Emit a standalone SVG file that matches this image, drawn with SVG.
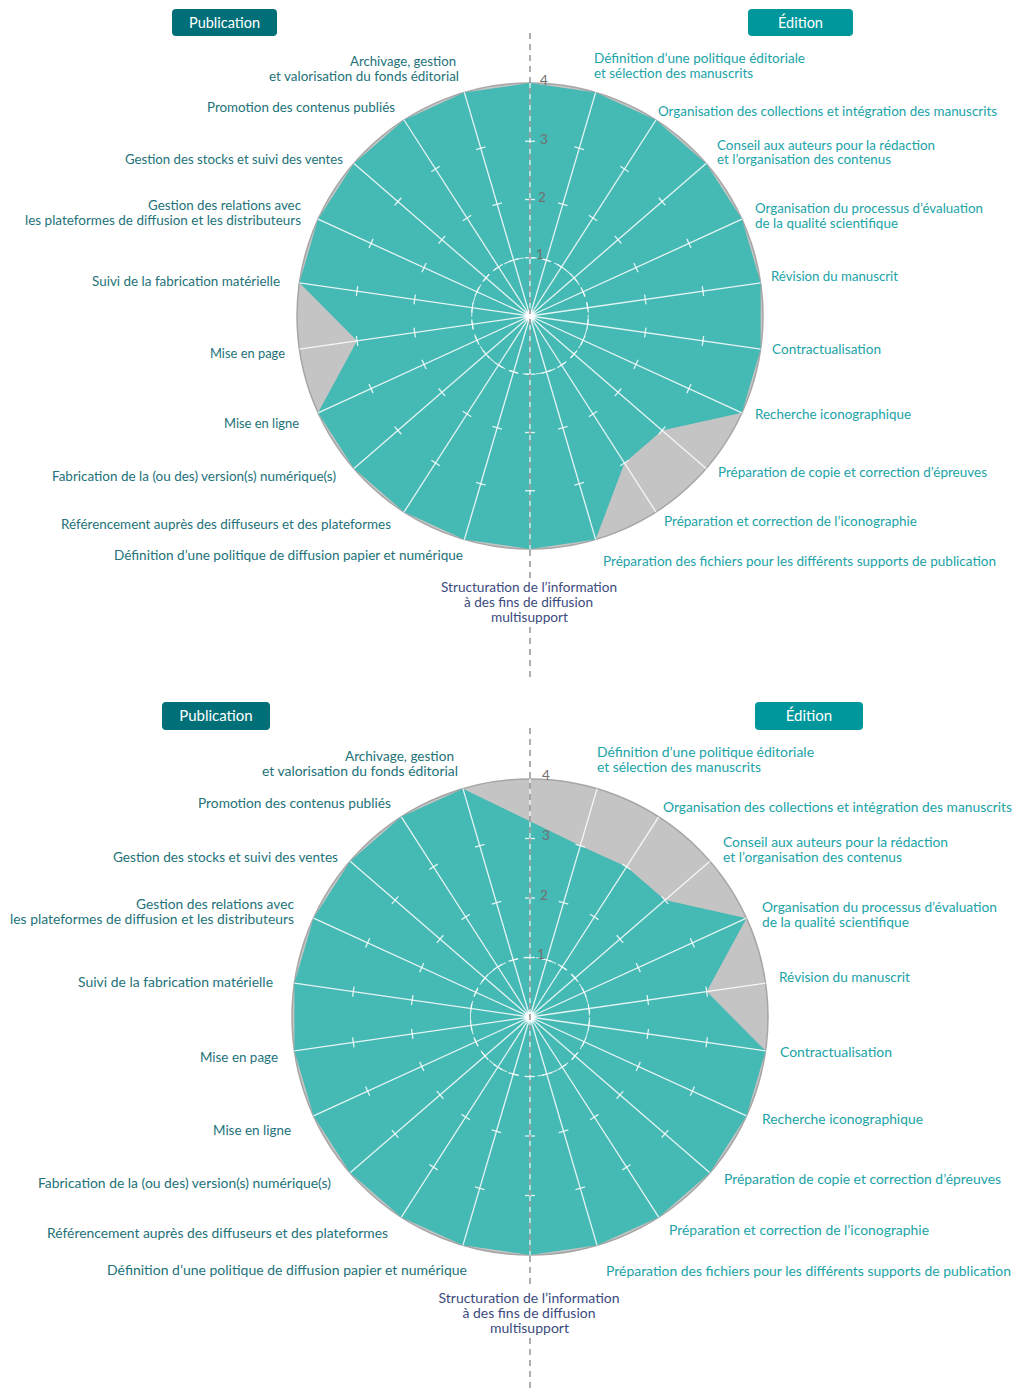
<svg xmlns="http://www.w3.org/2000/svg" xmlns:xlink="http://www.w3.org/1999/xlink" width="1014" height="1390" viewBox="0 0 1014 1390">
<style>
.bg{fill:#c4c4c4;stroke:#a6a6a6;stroke-width:1.5}
.val{fill:#45b9b4}
.sp line{stroke:#ffffff;stroke-width:1.3;stroke-opacity:0.85}
.ring{fill:none;stroke:#ffffff;stroke-width:1.1;stroke-opacity:0.75;stroke-dasharray:8 5}
.axis{stroke:#7a7a7a;stroke-width:1.2;stroke-dasharray:6 5;fill:none}
.num{font-family:Lato,"Liberation Sans",sans-serif;font-size:13.5px;fill:#707070}
text{font-family:Lato,"Open Sans","Liberation Sans",sans-serif;font-size:13px}
.l{fill:#237279;text-anchor:end}
.r{fill:#20a3a7}
.c{fill:#3b4a7e;text-anchor:middle}
.btn-p{fill:#006f78}
.btn-e{fill:#00979c}
.bt{fill:#ffffff;font-size:14.5px;text-anchor:middle}
.b2 text{font-size:13.4px}
.b2 .bt{font-size:15px}
</style>
<defs>
<radialGradient id="glow"><stop offset="0" stop-color="#ffffff" stop-opacity="1"/><stop offset="0.5" stop-color="#ffffff" stop-opacity="0.9"/><stop offset="1" stop-color="#ffffff" stop-opacity="0"/></radialGradient>
<g id="spA" class="sp"><line x1="0" y1="0" x2="0" y2="-233"/><line x1="-5" y1="-58.25" x2="5" y2="-58.25"/><line x1="-5" y1="-116.5" x2="5" y2="-116.5"/><line x1="-5" y1="-174.75" x2="5" y2="-174.75"/></g>
<g id="spB" class="sp"><line x1="0" y1="0" x2="0" y2="-238"/><line x1="-5" y1="-59.5" x2="5" y2="-59.5"/><line x1="-5" y1="-119" x2="5" y2="-119"/><line x1="-5" y1="-178.5" x2="5" y2="-178.5"/></g>
</defs>

<g id="chart-top">
<circle class="bg" cx="530" cy="316" r="233"/>
<polygon class="val" points="530,83 595.64,92.44 655.97,119.99 706.09,163.42 741.94,219.21 760.63,282.84 760.63,349.16 741.94,412.79 662.07,430.44 624.48,463.01 595.64,539.56 530,549 464.36,539.56 404.03,512.01 353.91,468.58 318.06,412.79 357.03,340.87 299.37,282.84 318.06,219.21 353.91,163.42 404.03,119.99 464.36,92.44"/>
<g id="spokes-top" transform="translate(530,316)">
<use href="#spA" transform="rotate(0)"/>
<use href="#spA" transform="rotate(16.3636)"/>
<use href="#spA" transform="rotate(32.7273)"/>
<use href="#spA" transform="rotate(49.0909)"/>
<use href="#spA" transform="rotate(65.4545)"/>
<use href="#spA" transform="rotate(81.8182)"/>
<use href="#spA" transform="rotate(98.1818)"/>
<use href="#spA" transform="rotate(114.5455)"/>
<use href="#spA" transform="rotate(130.9091)"/>
<use href="#spA" transform="rotate(147.2727)"/>
<use href="#spA" transform="rotate(163.6364)"/>
<use href="#spA" transform="rotate(180)"/>
<use href="#spA" transform="rotate(196.3636)"/>
<use href="#spA" transform="rotate(212.7273)"/>
<use href="#spA" transform="rotate(229.0909)"/>
<use href="#spA" transform="rotate(245.4545)"/>
<use href="#spA" transform="rotate(261.8182)"/>
<use href="#spA" transform="rotate(278.1818)"/>
<use href="#spA" transform="rotate(294.5455)"/>
<use href="#spA" transform="rotate(310.9091)"/>
<use href="#spA" transform="rotate(327.2727)"/>
<use href="#spA" transform="rotate(343.6364)"/>
<circle class="ring" cx="0" cy="0" r="58.25"/>
<circle cx="0" cy="0" r="7" fill="url(#glow)"/>
</g>
<path class="axis" d="M530,33 V578 M530,627 V678"/>
<text class="num" x="540" y="85">4</text>
<text class="num" x="540" y="143.5">3</text>
<text class="num" x="538" y="202">2</text>
<text class="num" x="536" y="258.5">1</text>
</g>

<g id="labels-top">
<g id="btn-pub-top"><rect class="btn-p" x="172" y="9" width="105" height="27" rx="4"/><text class="bt" x="224.5" y="27.5">Publication</text></g>
<g id="btn-edi-top"><rect class="btn-e" x="748" y="9" width="105" height="27" rx="4"/><text class="bt" x="800.5" y="27.5">Édition</text></g>
<text class="r" x="594" y="62.5" textLength="211" lengthAdjust="spacingAndGlyphs">Définition d’une politique éditoriale</text>
<text class="r" x="594" y="77.5" textLength="159" lengthAdjust="spacingAndGlyphs">et sélection des manuscrits</text>
<text class="r" x="658" y="115.5" textLength="339" lengthAdjust="spacingAndGlyphs">Organisation des collections et intégration des manuscrits</text>
<text class="r" x="717" y="149.5" textLength="218" lengthAdjust="spacingAndGlyphs">Conseil aux auteurs pour la rédaction</text>
<text class="r" x="717" y="163.5" textLength="174" lengthAdjust="spacingAndGlyphs">et l’organisation des contenus</text>
<text class="r" x="755" y="212.5" textLength="228" lengthAdjust="spacingAndGlyphs">Organisation du processus d’évaluation</text>
<text class="r" x="755" y="227.5" textLength="143" lengthAdjust="spacingAndGlyphs">de la qualité scientifique</text>
<text class="r" x="771" y="280.5" textLength="127" lengthAdjust="spacingAndGlyphs">Révision du manuscrit</text>
<text class="r" x="772" y="353.5" textLength="109" lengthAdjust="spacingAndGlyphs">Contractualisation</text>
<text class="r" x="755" y="418.5" textLength="156" lengthAdjust="spacingAndGlyphs">Recherche iconographique</text>
<text class="r" x="718" y="476.5" textLength="269" lengthAdjust="spacingAndGlyphs">Préparation de copie et correction d’épreuves</text>
<text class="r" x="664" y="525.5" textLength="253" lengthAdjust="spacingAndGlyphs">Préparation et correction de l’iconographie</text>
<text class="r" x="603" y="565.5" textLength="393" lengthAdjust="spacingAndGlyphs">Préparation des fichiers pour les différents supports de publication</text>
<text class="c" x="529" y="591.5" textLength="176" lengthAdjust="spacingAndGlyphs">Structuration de l’information</text>
<text class="c" x="528.5" y="607" textLength="129" lengthAdjust="spacingAndGlyphs">à des fins de diffusion</text>
<text class="c" x="529.5" y="621.5" textLength="77" lengthAdjust="spacingAndGlyphs">multisupport</text>
<text class="l" x="456" y="66" textLength="106" lengthAdjust="spacingAndGlyphs">Archivage, gestion</text>
<text class="l" x="459" y="80.5" textLength="190" lengthAdjust="spacingAndGlyphs">et valorisation du fonds éditorial</text>
<text class="l" x="395" y="111.5" textLength="188" lengthAdjust="spacingAndGlyphs">Promotion des contenus publiés</text>
<text class="l" x="343" y="163.5" textLength="218" lengthAdjust="spacingAndGlyphs">Gestion des stocks et suivi des ventes</text>
<text class="l" x="301" y="209.5" textLength="153" lengthAdjust="spacingAndGlyphs">Gestion des relations avec</text>
<text class="l" x="301" y="224.5" textLength="276" lengthAdjust="spacingAndGlyphs">les plateformes de diffusion et les distributeurs</text>
<text class="l" x="280" y="285.5" textLength="188" lengthAdjust="spacingAndGlyphs">Suivi de la fabrication matérielle</text>
<text class="l" x="285" y="357.5" textLength="75" lengthAdjust="spacingAndGlyphs">Mise en page</text>
<text class="l" x="299" y="427.5" textLength="75" lengthAdjust="spacingAndGlyphs">Mise en ligne</text>
<text class="l" x="336" y="480.5" textLength="284" lengthAdjust="spacingAndGlyphs">Fabrication de la (ou des) version(s) numérique(s)</text>
<text class="l" x="391" y="528.5" textLength="330" lengthAdjust="spacingAndGlyphs">Référencement auprès des diffuseurs et des plateformes</text>
<text class="l" x="463" y="559.5" textLength="349" lengthAdjust="spacingAndGlyphs">Définition d’une politique de diffusion papier et numérique</text>
</g>

<g id="chart-bottom">
<circle class="bg" cx="530" cy="1017" r="238"/>
<polygon class="val" points="580.29,845.73 626.50,866.84 664.90,900.11 746.49,918.13 706.68,991.60 765.58,1050.87 746.49,1115.87 709.87,1172.86 658.67,1217.22 597.05,1245.36 530,1255 462.95,1245.36 401.33,1217.22 350.13,1172.86 313.51,1115.87 294.42,1050.87 294.42,983.13 313.51,918.13 350.13,861.14 401.33,816.78 462.95,788.64"/>
<g id="spokes-bottom" transform="translate(530,1017)">
<use href="#spB" transform="rotate(0)"/>
<use href="#spB" transform="rotate(16.3636)"/>
<use href="#spB" transform="rotate(32.7273)"/>
<use href="#spB" transform="rotate(49.0909)"/>
<use href="#spB" transform="rotate(65.4545)"/>
<use href="#spB" transform="rotate(81.8182)"/>
<use href="#spB" transform="rotate(98.1818)"/>
<use href="#spB" transform="rotate(114.5455)"/>
<use href="#spB" transform="rotate(130.9091)"/>
<use href="#spB" transform="rotate(147.2727)"/>
<use href="#spB" transform="rotate(163.6364)"/>
<use href="#spB" transform="rotate(180)"/>
<use href="#spB" transform="rotate(196.3636)"/>
<use href="#spB" transform="rotate(212.7273)"/>
<use href="#spB" transform="rotate(229.0909)"/>
<use href="#spB" transform="rotate(245.4545)"/>
<use href="#spB" transform="rotate(261.8182)"/>
<use href="#spB" transform="rotate(278.1818)"/>
<use href="#spB" transform="rotate(294.5455)"/>
<use href="#spB" transform="rotate(310.9091)"/>
<use href="#spB" transform="rotate(327.2727)"/>
<use href="#spB" transform="rotate(343.6364)"/>
<circle class="ring" cx="0" cy="0" r="59.5"/>
<circle cx="0" cy="0" r="7" fill="url(#glow)"/>
</g>
<path class="axis" d="M530,728 V1288 M530,1338 V1390"/>
<text class="num" x="542" y="780">4</text>
<text class="num" x="542" y="840">3</text>
<text class="num" x="540" y="900">2</text>
<text class="num" x="537" y="959">1</text>
</g>

<g id="labels-bottom" class="b2">
<g id="btn-pub-bottom"><rect class="btn-p" x="162" y="702" width="108" height="28" rx="4"/><text class="bt" x="216" y="721">Publication</text></g>
<g id="btn-edi-bottom"><rect class="btn-e" x="755" y="702" width="108" height="28" rx="4"/><text class="bt" x="809" y="721">Édition</text></g>
<text class="r" x="597" y="756.6" textLength="217" lengthAdjust="spacingAndGlyphs">Définition d’une politique éditoriale</text>
<text class="r" x="597" y="771.6" textLength="164" lengthAdjust="spacingAndGlyphs">et sélection des manuscrits</text>
<text class="r" x="663" y="811.6" textLength="349" lengthAdjust="spacingAndGlyphs">Organisation des collections et intégration des manuscrits</text>
<text class="r" x="723" y="846.6" textLength="225" lengthAdjust="spacingAndGlyphs">Conseil aux auteurs pour la rédaction</text>
<text class="r" x="723" y="861.6" textLength="179" lengthAdjust="spacingAndGlyphs">et l’organisation des contenus</text>
<text class="r" x="762" y="911.6" textLength="235" lengthAdjust="spacingAndGlyphs">Organisation du processus d’évaluation</text>
<text class="r" x="762" y="926.6" textLength="147" lengthAdjust="spacingAndGlyphs">de la qualité scientifique</text>
<text class="r" x="779" y="981.6" textLength="131" lengthAdjust="spacingAndGlyphs">Révision du manuscrit</text>
<text class="r" x="780" y="1056.6" textLength="112" lengthAdjust="spacingAndGlyphs">Contractualisation</text>
<text class="r" x="762" y="1123.6" textLength="161" lengthAdjust="spacingAndGlyphs">Recherche iconographique</text>
<text class="r" x="724" y="1183.6" textLength="277" lengthAdjust="spacingAndGlyphs">Préparation de copie et correction d’épreuves</text>
<text class="r" x="669" y="1234.6" textLength="260" lengthAdjust="spacingAndGlyphs">Préparation et correction de l’iconographie</text>
<text class="r" x="606" y="1275.6" textLength="405" lengthAdjust="spacingAndGlyphs">Préparation des fichiers pour les différents supports de publication</text>
<text class="c" x="529" y="1302.6" textLength="181" lengthAdjust="spacingAndGlyphs">Structuration de l’information</text>
<text class="c" x="529" y="1317.6" textLength="133" lengthAdjust="spacingAndGlyphs">à des fins de diffusion</text>
<text class="c" x="529.5" y="1332.6" textLength="79" lengthAdjust="spacingAndGlyphs">multisupport</text>
<text class="l" x="454" y="760.6" textLength="109" lengthAdjust="spacingAndGlyphs">Archivage, gestion</text>
<text class="l" x="458" y="775.6" textLength="196" lengthAdjust="spacingAndGlyphs">et valorisation du fonds éditorial</text>
<text class="l" x="391" y="807.6" textLength="193" lengthAdjust="spacingAndGlyphs">Promotion des contenus publiés</text>
<text class="l" x="338" y="861.6" textLength="225" lengthAdjust="spacingAndGlyphs">Gestion des stocks et suivi des ventes</text>
<text class="l" x="294" y="908.6" textLength="158" lengthAdjust="spacingAndGlyphs">Gestion des relations avec</text>
<text class="l" x="294" y="923.6" textLength="284" lengthAdjust="spacingAndGlyphs">les plateformes de diffusion et les distributeurs</text>
<text class="l" x="273" y="986.6" textLength="195" lengthAdjust="spacingAndGlyphs">Suivi de la fabrication matérielle</text>
<text class="l" x="278" y="1061.6" textLength="78" lengthAdjust="spacingAndGlyphs">Mise en page</text>
<text class="l" x="291" y="1134.6" textLength="78" lengthAdjust="spacingAndGlyphs">Mise en ligne</text>
<text class="l" x="331" y="1187.6" textLength="293" lengthAdjust="spacingAndGlyphs">Fabrication de la (ou des) version(s) numérique(s)</text>
<text class="l" x="388" y="1237.6" textLength="341" lengthAdjust="spacingAndGlyphs">Référencement auprès des diffuseurs et des plateformes</text>
<text class="l" x="467" y="1274.6" textLength="360" lengthAdjust="spacingAndGlyphs">Définition d’une politique de diffusion papier et numérique</text>
</g>
</svg>
